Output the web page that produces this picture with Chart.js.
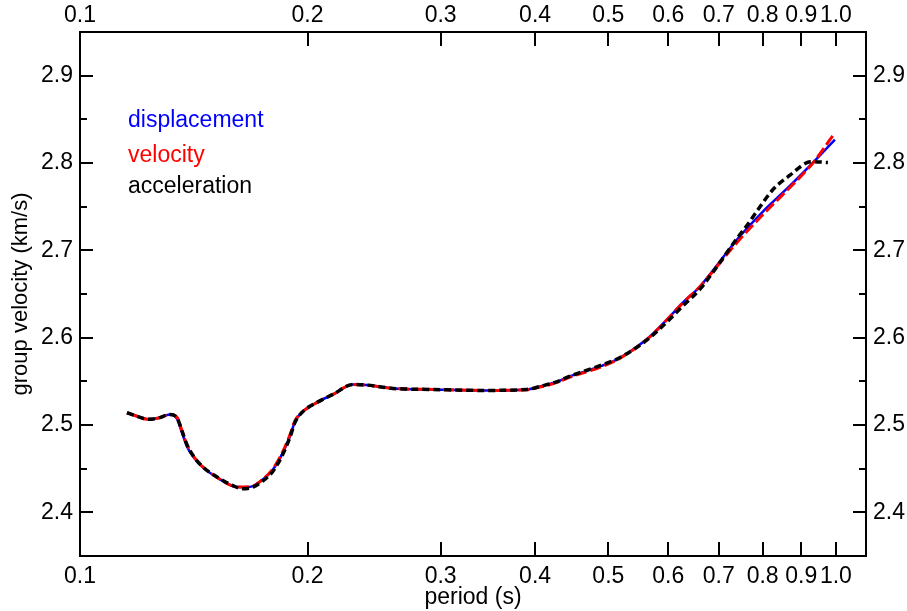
<!DOCTYPE html>
<html>
<head>
<meta charset="utf-8">
<script src="https://cdn.jsdelivr.net/npm/chart.js@4.4.1/dist/chart.umd.min.js"></script>
<style>
html,body{margin:0;padding:0;background:#fff;}
#wrap{width:907px;height:611px;}
</style>
</head>
<body>
<div id="wrap"><canvas id="c" width="907" height="611"></canvas></div>
<script>
// ---- data ----
const periods = [0.1154,0.1190,0.1230,0.1270,0.1315,0.1344,0.1364,0.1385,0.1411,0.1454,0.1518,0.1594,0.1643,0.1694,0.1746,0.1800,0.1856,0.1896,0.1925,0.1966,0.2059,0.2161,0.2297,0.2397,0.2594,0.2931,0.3412,0.3903,0.4060,0.4289,0.4407,0.4873,0.5132,0.5388,0.5675,0.5977,0.6277,0.6610,0.6876,0.7400,0.8007,0.8600,0.9324];
const displacement = [2.514,2.510,2.5065,2.508,2.512,2.507,2.4915,2.4755,2.464,2.4515,2.440,2.430,2.4286,2.430,2.4378,2.449,2.4686,2.487,2.504,2.5144,2.5259,2.535,2.5465,2.5457,2.5419,2.5407,2.5396,2.5407,2.5442,2.5499,2.5545,2.567,2.5751,2.5865,2.6014,2.6208,2.6403,2.6586,2.677,2.7124,2.7444,2.770,2.8005];
const velocity = [2.514,2.510,2.5065,2.508,2.512,2.509,2.4935,2.4775,2.465,2.452,2.440,2.430,2.429,2.430,2.438,2.450,2.470,2.489,2.505,2.5144,2.5259,2.535,2.5465,2.5457,2.5419,2.5407,2.5396,2.5405,2.5435,2.549,2.5535,2.566,2.5745,2.586,2.601,2.6205,2.6400,2.6585,2.676,2.709,2.741,2.768,2.800];
const dispEnd = {period: 0.997, value: 2.8268};
const velEnd = {period: 0.991, value: 2.8314};
const accPeriods = [0.1154,0.1190,0.1230,0.1270,0.1315,0.1344,0.1364,0.1385,0.1411,0.1454,0.1518,0.1594,0.1643,0.1694,0.1746,0.1800,0.1856,0.1896,0.1925,0.1966,0.2059,0.2161,0.2297,0.2397,0.2594,0.2931,0.3412,0.3903,0.4060,0.4289,0.4407,0.4873,0.5132,0.5388,0.5675,0.5977,0.6277,0.6610,0.6876,0.7222,0.7464,0.7664,0.7864,0.8255,0.8694,0.9155,0.9296,0.9759];
const acceleration = [2.514,2.510,2.5065,2.508,2.512,2.508,2.4935,2.4775,2.465,2.452,2.4405,2.4305,2.427,2.429,2.436,2.447,2.467,2.486,2.503,2.5144,2.5259,2.535,2.5465,2.5457,2.5419,2.5407,2.5396,2.5407,2.5442,2.5499,2.5545,2.568,2.5755,2.586,2.600,2.618,2.6365,2.6555,2.675,2.701,2.718,2.731,2.745,2.7696,2.7860,2.8005,2.8016,2.8005];
const xTicks = [0.1,0.2,0.3,0.4,0.5,0.6,0.7,0.8,0.9,1.0];
const yTicks = [2.4,2.5,2.6,2.7,2.8,2.9];
const yMinorTicks = [2.45,2.55,2.65,2.75,2.85];
const legendLabels = ['displacement','velocity','acceleration'];
const seriesColors = ['#0000ff','#ff0000','#000000'];

// ---- build series ----
function pts(xs, ys){ return xs.map((x,i)=>({x:x, y:ys[i]})); }
const dispData = pts(periods, displacement).concat([{x:dispEnd.period,y:dispEnd.value}]);
const velData = pts(periods, velocity).concat([{x:velEnd.period,y:velEnd.value}]);
const accData = pts(accPeriods, acceleration);

const FONT = 'Liberation Sans, Arial, Helvetica, sans-serif';
const fs = 23;

const inwardTicks = {
  id:'inwardTicks',
  afterDraw(chart){
    const ctx = chart.ctx, a = chart.chartArea;
    ctx.save();
    ctx.strokeStyle = '#000'; ctx.lineWidth = 2;
    const sx = chart.scales.x;
    xTicks.forEach(v=>{
      const px = Math.round(sx.getPixelForValue(v));
      ctx.beginPath(); ctx.moveTo(px,a.bottom); ctx.lineTo(px,a.bottom-14); ctx.stroke();
      ctx.beginPath(); ctx.moveTo(px,a.top); ctx.lineTo(px,a.top+14); ctx.stroke();
    });
    const sy = chart.scales.y;
    yTicks.forEach(v=>{
      const py = Math.round(sy.getPixelForValue(v));
      ctx.beginPath(); ctx.moveTo(a.left,py); ctx.lineTo(a.left+13,py); ctx.stroke();
      ctx.beginPath(); ctx.moveTo(a.right,py); ctx.lineTo(a.right-13,py); ctx.stroke();
    });
    yMinorTicks.forEach(v=>{
      const py = Math.round(sy.getPixelForValue(v));
      ctx.beginPath(); ctx.moveTo(a.left,py); ctx.lineTo(a.left+7,py); ctx.stroke();
      ctx.beginPath(); ctx.moveTo(a.right,py); ctx.lineTo(a.right-7,py); ctx.stroke();
    });
    // legend text
    ctx.font = fs + 'px ' + FONT;
    ctx.textBaseline = 'middle'; ctx.textAlign = 'left';
    const ly = [121,156,187];
    legendLabels.forEach((t,i)=>{ ctx.fillStyle = seriesColors[i]; ctx.fillText(t, 128, ly[i]); });
    ctx.restore();
  }
};

const fixedTicks = vals => (scale)=>{ scale.ticks = vals.map(v=>({value:v})); };

new Chart(document.getElementById('c'), {
  type:'line',
  data:{ datasets:[
    {label:legendLabels[0], data:dispData, borderColor:seriesColors[0], borderWidth:2.5, pointRadius:0, cubicInterpolationMode:'monotone', order:3},
    {label:legendLabels[1], data:velData, borderColor:seriesColors[1], borderWidth:3, borderDash:[11,4], pointRadius:0, cubicInterpolationMode:'monotone', order:2},
    {label:legendLabels[2], data:accData, borderColor:seriesColors[2], borderWidth:3.5, borderDash:[7,4], pointRadius:0, cubicInterpolationMode:'monotone', order:1}
  ]},
  options:{
    responsive:false, animation:false, devicePixelRatio:1,
    layout:{padding:0},
    plugins:{legend:{display:false}, tooltip:{enabled:false}},
    scales:{
      x:{type:'logarithmic', position:'bottom', min:0.1, max:1.096,
        afterBuildTicks: fixedTicks(xTicks),
        afterFit(s){ s.height = 55; },
        grid:{display:false, drawTicks:false},
        border:{display:true, color:'#000', width:2},
        ticks:{autoSkip:false, maxRotation:0, padding:7, color:'#000', font:{family:FONT,size:fs}, callback:v=>Number(v).toFixed(1)},
        title:{display:true, text:'period (s)', color:'#000', font:{family:FONT,size:fs}, padding:{top:-6,bottom:0}}
      },
      x2:{type:'logarithmic', position:'top', min:0.1, max:1.096,
        afterBuildTicks: fixedTicks(xTicks),
        afterFit(s){ s.height = 32; },
        grid:{display:false, drawTicks:false},
        border:{display:true, color:'#000', width:2},
        ticks:{autoSkip:false, maxRotation:0, padding:3, color:'#000', font:{family:FONT,size:fs}, callback:v=>Number(v).toFixed(1)}
      },
      y:{type:'linear', position:'left', min:2.35, max:2.95,
        afterBuildTicks: fixedTicks(yTicks),
        afterFit(s){ s.width = 80; },
        grid:{display:false, drawTicks:false},
        border:{display:true, color:'#000', width:2},
        ticks:{padding:7, color:'#000', font:{family:FONT,size:fs}, callback:v=>Number(v).toFixed(1)},
        title:{display:true, text:'group velocity (km/s)', color:'#000', font:{family:FONT,size:22}, padding:{top:8,bottom:0}}
      },
      y2:{type:'linear', position:'right', min:2.35, max:2.95,
        afterBuildTicks: fixedTicks(yTicks),
        afterFit(s){ s.width = 41; },
        grid:{display:false, drawTicks:false},
        border:{display:true, color:'#000', width:2},
        ticks:{padding:7, color:'#000', font:{family:FONT,size:fs}, callback:v=>Number(v).toFixed(1)}
      }
    }
  },
  plugins:[inwardTicks]
});
</script>
</body>
</html>
